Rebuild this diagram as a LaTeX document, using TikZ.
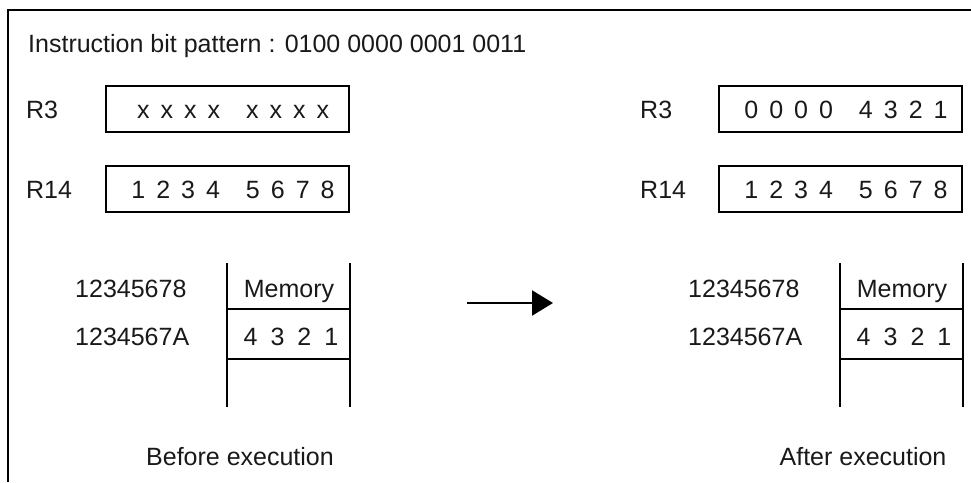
\documentclass[tikz,border=0pt]{standalone}
\usepackage{fontspec}
\setmainfont{Liberation Sans}
\usetikzlibrary{arrows.meta}
\newcommand{\dsp}{\hspace{11pt}}
\newcommand{\dgap}{\hspace{26pt}}
\newcommand{\msp}{\hspace{13pt}}
\begin{document}
\begin{tikzpicture}[x=1pt,y=-1pt,
  txt/.style={font=\fontsize{25}{30}\selectfont, inner sep=0pt, text=black!90},
  regbox/.style={draw, line width=1.2pt, minimum width=243pt, minimum height=46pt, inner sep=0pt},
  thin/.style={line width=1.2pt},
  frame/.style={line width=2.3pt, line cap=butt},
  bigarrow/.style={line width=2.3pt, -{Triangle[length=21pt,width=25pt]}}]
\useasboundingbox (0,0) rectangle (971,482);
% frame
\draw[frame] (8,482) -- (8,10) -- (971,10);
% title
\node[txt, anchor=base west] (title) at (28,52) {Instruction bit pattern : 0100 0000 0001 0011};
% ---------- before ----------
\node[txt, anchor=base west] (lr3a) at (26,118) {R3};
\node[regbox] (r3a) at (227.5,109) {};
\node[txt, anchor=base] (r3at) at (233,118) {x\dsp x\dsp x\dsp x\dgap x\dsp x\dsp x\dsp x};
\node[txt, anchor=base west] (lr14a) at (26,198.5) {R14};
\node[regbox] (r14a) at (227.5,189) {};
\node[txt, anchor=base] (r14at) at (233,198.5) {1\dsp 2\dsp 3\dsp 4\dgap 5\dsp 6\dsp 7\dsp 8};
% memory before
\draw[thin] (227,263) -- (227,407);
\draw[thin] (350,263) -- (350,407);
\draw[thin] (227,309) -- (350,309);
\draw[thin] (227,359) -- (350,359);
\node[txt, anchor=base] (mema) at (289,297) {Memory};
\node[txt, anchor=base] (vala) at (291,345) {4\msp 3\msp 2\msp 1};
\node[txt, anchor=base west] (ad1a) at (75,297) {12345678};
\node[txt, anchor=base west] (ad2a) at (75,345) {1234567A};
\node[txt, anchor=base] (capa) at (240,465) {Before execution};
% arrow
\coordinate (as) at (467,303);
\coordinate (ae) at (553,303);
\draw[bigarrow] (as) -- (ae);
% ---------- after ----------
\node[txt, anchor=base west] (lr3b) at (640,118) {R3};
\node[regbox] (r3b) at (840.5,109) {};
\node[txt, anchor=base] (r3bt) at (846,118) {0\dsp 0\dsp 0\dsp 0\dgap 4\dsp 3\dsp 2\dsp 1};
\node[txt, anchor=base west] (lr14b) at (640,198.5) {R14};
\node[regbox] (r14b) at (840.5,189) {};
\node[txt, anchor=base] (r14bt) at (846,198.5) {1\dsp 2\dsp 3\dsp 4\dgap 5\dsp 6\dsp 7\dsp 8};
% memory after
\draw[thin] (840,263) -- (840,407);
\draw[thin] (963,263) -- (963,407);
\draw[thin] (840,309) -- (963,309);
\draw[thin] (840,359) -- (963,359);
\node[txt, anchor=base] (memb) at (902,297) {Memory};
\node[txt, anchor=base] (valb) at (904,345) {4\msp 3\msp 2\msp 1};
\node[txt, anchor=base west] (ad1b) at (688,297) {12345678};
\node[txt, anchor=base west] (ad2b) at (688,345) {1234567A};
\node[txt, anchor=base] (capb) at (863,465) {After execution};
\end{tikzpicture}
\end{document}
